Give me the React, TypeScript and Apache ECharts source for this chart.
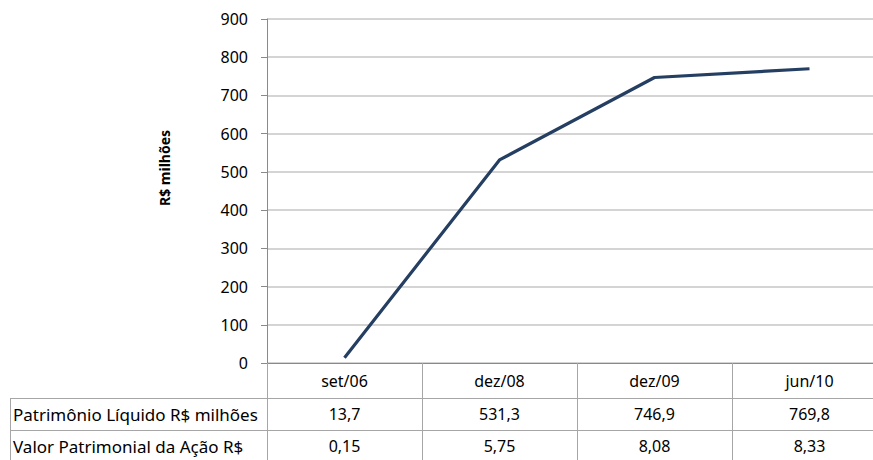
import React, { useEffect, useRef } from "react";
import * as echarts from "echarts";

const categories = ["set/06", "dez/08", "dez/09", "jun/10"];
const plValues = [13.7, 531.3, 746.9, 769.8];
const vpaValues = [0.15, 5.75, 8.08, 8.33];
const rowLabels = ["Patrimônio Líquido R$ milhões", "Valor Patrimonial da Ação R$"];
const yTitle = "R$ milhões";
const yMin = 0;
const yMax = 900;
const yStep = 100;

const FONT = '"Noto Sans", "Open Sans", sans-serif';
const AXIS_GRAY = "#8a8a8a";
const TABLE_GRAY = "#a6a6a6";
const GRID_GRAY = "#c6c6c6";
const LINE_COLOR = "#253F62";

const fmt = (v: number, d: number) => v.toFixed(d).replace(".", ",");

export default function App() {
  const ref = useRef<HTMLDivElement>(null);
  useEffect(() => {
    if (!ref.current) return;
    const chart = echarts.init(ref.current, null, { renderer: "svg" });
    const gridTop = 19;
    const axisY = 363;
    const row1 = 35;
    const row2 = 32;
    const row3 = 32;
    const labelFont = { fontFamily: FONT, fontSize: 16, color: "#000" };
    const rowFont = { fontFamily: FONT, fontSize: 17 };
    const tableAxis = (data: string[], offset: number, h: number, center: number) => ({
      type: "category",
      data,
      boundaryGap: true,
      position: "bottom",
      offset,
      axisLine: { show: true, lineStyle: { color: offset === 0 ? AXIS_GRAY : TABLE_GRAY, width: 1 } },
      axisTick: { show: true, interval: 0, length: h, lineStyle: { color: TABLE_GRAY, width: 1 } },
      axisLabel: { ...labelFont, interval: 0, margin: center, verticalAlign: "middle" },
      splitLine: { show: false },
    });
    chart.setOption({
      animation: false,
      grid: { left: 267, right: 3, top: gridTop, bottom: 460 - axisY, containLabel: false },
      xAxis: [
        tableAxis(categories, 0, row1, 18),
        tableAxis(plValues.map((v) => fmt(v, 1)), row1, row2, 16),
        tableAxis(vpaValues.map((v) => fmt(v, 2)), row1 + row2, row3, 16),
      ],
      yAxis: {
        type: "value",
        min: yMin,
        max: yMax,
        interval: yStep,
        axisLine: { show: true, lineStyle: { color: AXIS_GRAY, width: 1 } },
        axisTick: { show: true, length: 6, lineStyle: { color: AXIS_GRAY } },
        axisLabel: { ...labelFont, margin: 19 },
        splitLine: { show: true, lineStyle: { color: GRID_GRAY, width: 1.5 } },
      },
      graphic: [
        {
          type: "text",
          x: 164,
          y: 168,
          rotation: Math.PI / 2,
          style: {
            text: yTitle,
            fontFamily: FONT,
            fontSize: 14,
            fontWeight: "bold",
            fill: "#000",
            align: "center",
            verticalAlign: "middle",
          },
        },
        { type: "line", shape: { x1: 10, y1: axisY + row1 + 0.5, x2: 267, y2: axisY + row1 + 0.5 }, style: { stroke: TABLE_GRAY, lineWidth: 1 } },
        { type: "line", shape: { x1: 10, y1: axisY + row1 + row2 + 0.5, x2: 267, y2: axisY + row1 + row2 + 0.5 }, style: { stroke: TABLE_GRAY, lineWidth: 1 } },
        { type: "line", shape: { x1: 10.5, y1: axisY + row1, x2: 10.5, y2: 470 }, style: { stroke: TABLE_GRAY, lineWidth: 1 } },
        {
          type: "text",
          x: 13,
          y: axisY + row1 + row2 / 2,
          style: { text: rowLabels[0], ...rowFont, fill: "#000", verticalAlign: "middle", align: "left" },
        },
        {
          type: "text",
          x: 13,
          y: axisY + row1 + row2 + row3 / 2,
          style: { text: rowLabels[1], ...rowFont, fill: "#000", verticalAlign: "middle", align: "left" },
        },
      ],
      series: [
        {
          type: "line",
          data: plValues,
          symbol: "none",
          lineStyle: { color: LINE_COLOR, width: 3.2 },
        },
      ],
    });
    return () => chart.dispose();
  }, []);
  return (
    <div style={{ position: "fixed", left: 0, top: 0, width: 873, height: 460, overflow: "hidden", background: "#fff" }}>
      <div ref={ref} style={{ width: 890, height: 460 }} />
    </div>
  );
}
